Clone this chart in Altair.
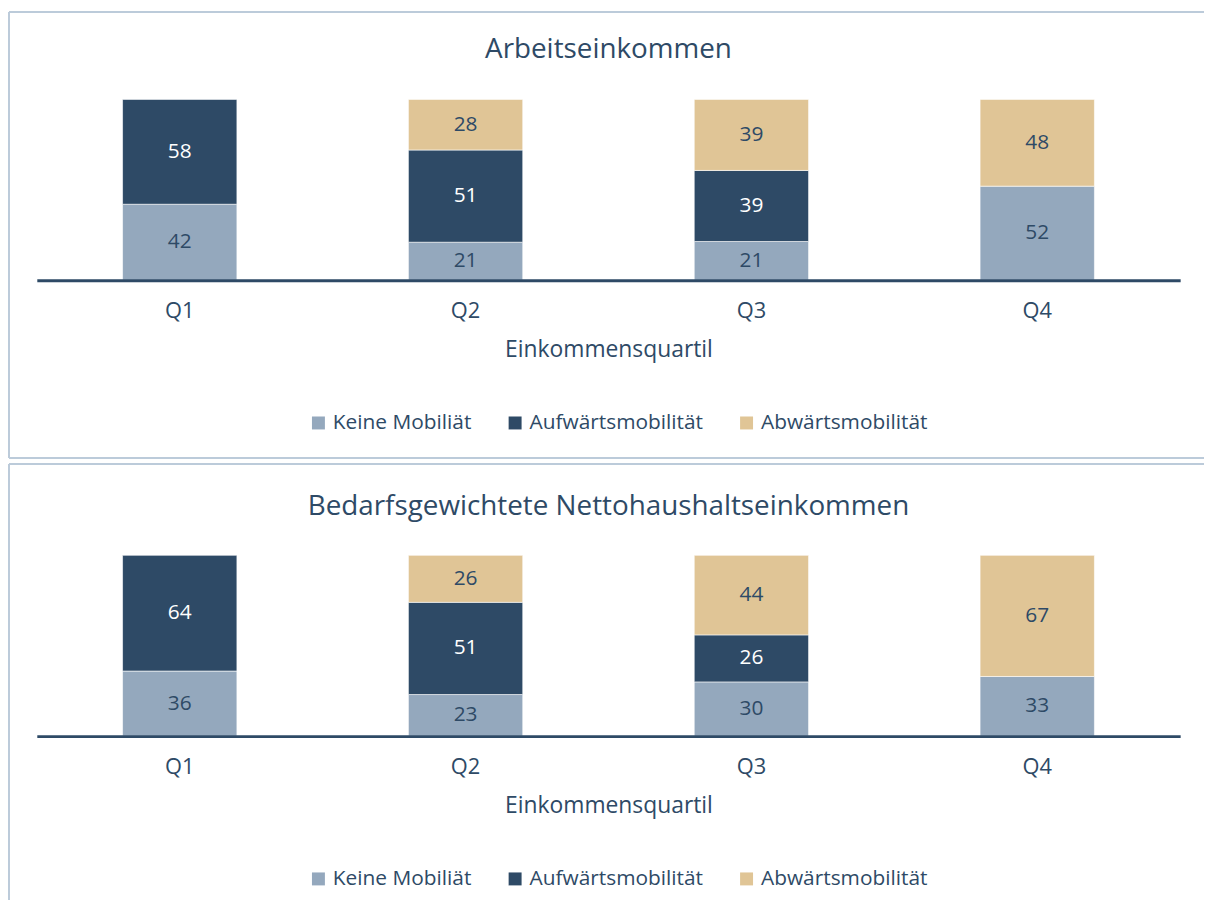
import altair as alt
import pandas as pd

quartiles = ["Q1", "Q2", "Q3", "Q4"]
categories = ["Keine Mobiliät", "Aufwärtsmobilität", "Abwärtsmobilität"]
colors = ["#94A8BD", "#2E4A66", "#E0C596"]
label_colors = ["#2E4A66", "#FFFFFF", "#2E4A66"]

arbeit_keine = [42, 21, 21.4, 52]
arbeit_auf = [58, 51, 39.3, 0]
arbeit_ab = [0, 28, 39.3, 48]

netto_keine = [36, 23, 30, 33]
netto_auf = [64, 51, 26, 0]
netto_ab = [0, 26, 44, 67]

titles = ["Arbeitseinkommen", "Bedarfsgewichtete Nettohaushaltseinkommen"]
x_title = "Einkommensquartil"

FONT = "Open Sans"
TXT = "#2E4A66"
BORDER = "#BCCBDA"
W, H = 1151, 182


def make_df(series):
    rows = []
    for ci, (cat, vals) in enumerate(zip(categories, series)):
        for q, v in zip(quartiles, vals):
            if v > 0:
                rows.append({"quartil": q, "kategorie": cat, "wert": v,
                             "ord": ci, "lab": label_colors[ci]})
    return pd.DataFrame(rows)


def panel(series, title, top, bottom, draw_bottom, title_offset):
    df = make_df(series)
    base = alt.Chart(df).transform_stack(
        stack="wert", groupby=["quartil"],
        sort=[alt.SortField("ord", order="ascending")], as_=["y0", "y1"]
    ).transform_calculate(mid="(datum.y0 + datum.y1) / 2")

    x = alt.X("quartil:N", sort=quartiles,
              scale=alt.Scale(paddingInner=0.6, paddingOuter=0.3),
              axis=alt.Axis(title=x_title, labelAngle=0, ticks=False, tickSize=0,
                            domainWidth=3, domainColor=TXT, labelFontSize=22,
                            labelColor=TXT, labelFont=FONT, labelPadding=21,
                            titleFontSize=23, titleFont=FONT, titleColor=TXT,
                            titleFontWeight="normal", titlePadding=17, zindex=1))
    bars = base.mark_bar(stroke="#FFFFFF", strokeWidth=0.6).encode(
        x=x,
        y=alt.Y("y0:Q", scale=alt.Scale(domain=[0, 100]), axis=None),
        y2="y1:Q",
        color=alt.Color("kategorie:N",
                        scale=alt.Scale(domain=categories, range=colors),
                        legend=alt.Legend(title=None, orient="none",
                                          legendX=273, legendY=315,
                                          direction="horizontal",
                                          symbolType="square", symbolSize=170,
                                          symbolStrokeWidth=0, labelLimit=0,
                                          labelFontSize=21, labelFont=FONT,
                                          labelColor=TXT, columnPadding=33)),
    )
    text = base.mark_text(fontSize=21, font=FONT).encode(
        x=alt.X("quartil:N", sort=quartiles),
        y=alt.Y("mid:Q"),
        text=alt.Text("wert:Q", format=".0f"),
        fill=alt.Fill("lab:N", scale=None),
    )
    one = pd.DataFrame({"k": [0]})
    rules = [
        alt.Chart(one).mark_rule(color=BORDER, strokeWidth=2).encode(
            x=alt.value(-28), x2=alt.value(1175), y=alt.value(top)),
        alt.Chart(one).mark_rule(color=BORDER, strokeWidth=2).encode(
            x=alt.value(-28), y=alt.value(top), y2=alt.value(bottom)),
    ]
    if draw_bottom:
        rules.append(alt.Chart(one).mark_rule(color=BORDER, strokeWidth=2).encode(
            x=alt.value(-28), x2=alt.value(1175), y=alt.value(bottom)))
    return alt.layer(bars, text, *rules).properties(
        width=W, height=H,
        title=alt.Title(title, fontSize=28, font=FONT, color=TXT,
                        fontWeight="normal", offset=title_offset, frame="group"),
    )


p1 = panel([arbeit_keine, arbeit_auf, arbeit_ab], titles[0], -88, 361, True, -53)
p2 = panel([netto_keine, netto_auf, netto_ab], titles[1], -92, 347, False, -58)

chart = alt.vconcat(p1, p2, spacing=4).resolve_scale(
    color="independent").resolve_legend(color="independent").properties(
    padding=0, background="#FFFFFF"
).configure_view(stroke=None)

chart.save("out.html", embed_options={"renderer": "svg", "actions": False})
